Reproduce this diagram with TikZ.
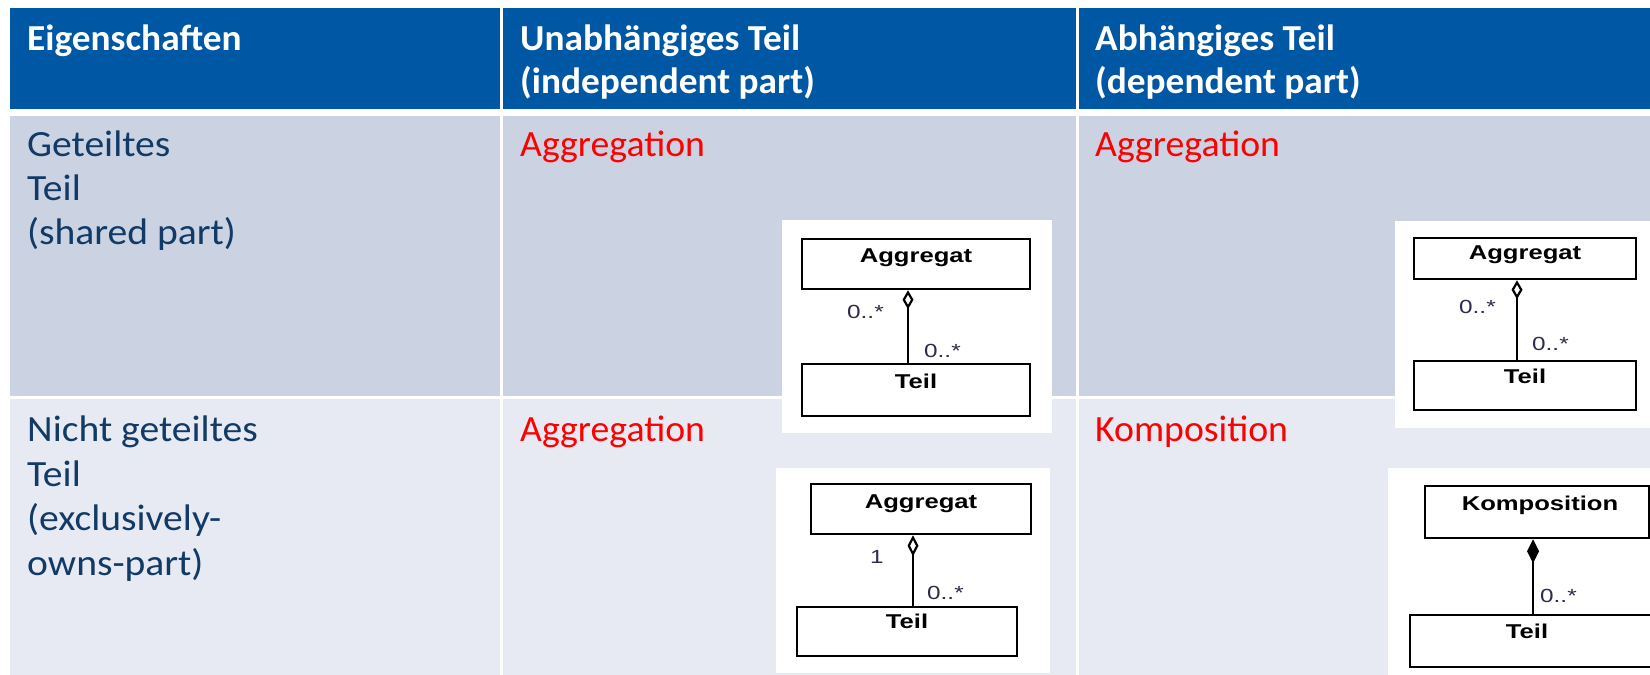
\documentclass[tikz,border=0pt]{standalone}
\usepackage{fontspec}
\setmainfont[FakeStretch=1.02]{Carlito}
\newfontfamily\leftfont[FakeStretch=1.07]{Carlito}
\newfontfamily\umlfont[FakeStretch=1.28]{Liberation Sans}
\usetikzlibrary{arrows.meta}
\definecolor{hdr}{HTML}{0057A4}
\definecolor{rowa}{HTML}{CBD2E2}
\definecolor{rowb}{HTML}{E7EAF2}
\definecolor{navy}{HTML}{113A66}
\definecolor{multc}{HTML}{33294A}
\tikzset{
  hdrtext/.style={text=white, font=\bfseries\fontsize{36.6}{43}\selectfont, anchor=base west, inner sep=0},
  bodytext/.style={text=navy, font=\leftfont\fontsize{37}{44}\selectfont, anchor=base west, inner sep=0},
  redtext/.style={text=red, font=\fontsize{37}{44}\selectfont, anchor=base west, inner sep=0},
  umlbox/.style={draw=black, line width=2.5, fill=white, inner sep=0},
  umllbl/.style={font=\umlfont\bfseries\fontsize{20}{24}\selectfont, anchor=base, inner sep=0},
  mult/.style={font=\umlfont\fontsize{19}{22}\selectfont, text=multc, anchor=base west, inner sep=0},
  assoc/.style={line width=2.2},
  imgbg/.style={fill=white},
}
\begin{document}
\begin{tikzpicture}[x=1pt,y=-1pt]
\clip (0,0) rectangle (1650,675);
\fill[white] (0,0) rectangle (1650,675);
% header
\fill[hdr] (10,8) rectangle (500,109);
\fill[hdr] (503,8) rectangle (1076,109);
\fill[hdr] (1079,8) rectangle (1650,109);
% row 1
\fill[rowa] (10,116) rectangle (500,396);
\fill[rowa] (503,116) rectangle (1076,396);
\fill[rowa] (1079,116) rectangle (1650,396);
% row 2
\fill[rowb] (10,399) rectangle (500,675);
\fill[rowb] (503,399) rectangle (1076,675);
\fill[rowb] (1079,399) rectangle (1650,675);

% header texts
\node[hdrtext] (h1) at (27,50) {Eigenschaften};
\node[hdrtext] (h2a) at (520,50) {Unabhängiges Teil};
\node[hdrtext] (h2b) at (520,93) {(independent part)};
\node[hdrtext] (h3a) at (1095,50) {Abhängiges Teil};
\node[hdrtext] (h3b) at (1095,93) {(dependent part)};

% row texts
\node[bodytext] (r1x) at (27,156) {Geteiltes};
\node[bodytext] (r1y) at (27,200) {Teil};
\node[bodytext] (r1z) at (27,244) {(shared part)};
\node[redtext] (r1a) at (520,156) {Aggregation};
\node[redtext] (r1b) at (1095,156) {Aggregation};
\node[bodytext] (r2w) at (27,441) {Nicht geteiltes};
\node[bodytext] (r2x) at (27,486) {Teil};
\node[bodytext] (r2y) at (27,530) {(exclusively-};
\node[bodytext] (r2z) at (27,575) {owns-part)};
\node[redtext] (r2a) at (520,441) {Aggregation};
\node[redtext] (r2b) at (1095,441) {Komposition};

% ---- UML A (row 1, col 2)
\fill[imgbg] (782,220) rectangle (1052,433);
\node[umlbox, minimum width=228, minimum height=50] (aA) at (916,264) {};
\node[umllbl] (aAl) at (916,262) {Aggregat};
\node[umlbox, minimum width=228, minimum height=52] (tA) at (916,390) {};
\node[umllbl] (tAl) at (916,388) {Teil};
\coordinate (xA) at (908,0);
\draw[assoc, {Diamond[open, length=19pt, width=11pt]}-] (aA.south -| xA) -- (tA.north -| xA);
\node[mult] (mA1) at (847,318) {0..*};
\node[mult] (mA2) at (924,357) {0..*};

% ---- UML B (row 1, col 3)
\fill[imgbg] (1395,221) rectangle (1650,428);
\node[umlbox, minimum width=222, minimum height=41] (aB) at (1525,258.5) {};
\node[umllbl] (aBl) at (1525,259) {Aggregat};
\node[umlbox, minimum width=222, minimum height=49] (tB) at (1525,385.5) {};
\node[umllbl] (tBl) at (1525,383) {Teil};
\coordinate (xB) at (1517,0);
\draw[assoc, {Diamond[open, length=19pt, width=11pt]}-] (aB.south -| xB) -- (tB.north -| xB);
\node[mult] (mB1) at (1459,313) {0..*};
\node[mult] (mB2) at (1532,350) {0..*};

% ---- UML C (row 2, col 2)
\fill[imgbg] (776,468) rectangle (1050,673);
\node[umlbox, minimum width=220, minimum height=50] (aC) at (921,509) {};
\node[umllbl] (aCl) at (921,508) {Aggregat};
\node[umlbox, minimum width=220, minimum height=49] (tC) at (907,631.5) {};
\node[umllbl] (tCl) at (907,628) {Teil};
\coordinate (xC) at (913,0);
\draw[assoc, {Diamond[open, length=21pt, width=11pt]}-] (aC.south -| xC) -- (tC.north -| xC);
\node[mult] (mC1) at (870,563) {1};
\node[mult] (mC2) at (927,599) {0..*};

% ---- UML D (row 2, col 3)
\fill[imgbg] (1388,468) rectangle (1650,675);
\node[umlbox, minimum width=224, minimum height=52] (aD) at (1537,512) {};
\node[umllbl] (aDl) at (1540,510) {Komposition};
\node[umlbox, minimum width=250, minimum height=52] (tD) at (1535,641) {};
\node[umllbl] (tDl) at (1527,638) {Teil};
\coordinate (xD) at (1533,0);
\draw[assoc, {Diamond[length=24pt, width=12pt]}-] (aD.south -| xD) -- (tD.north -| xD);
\node[mult] (mD1) at (1540,602) {0..*};
\end{tikzpicture}
\end{document}
